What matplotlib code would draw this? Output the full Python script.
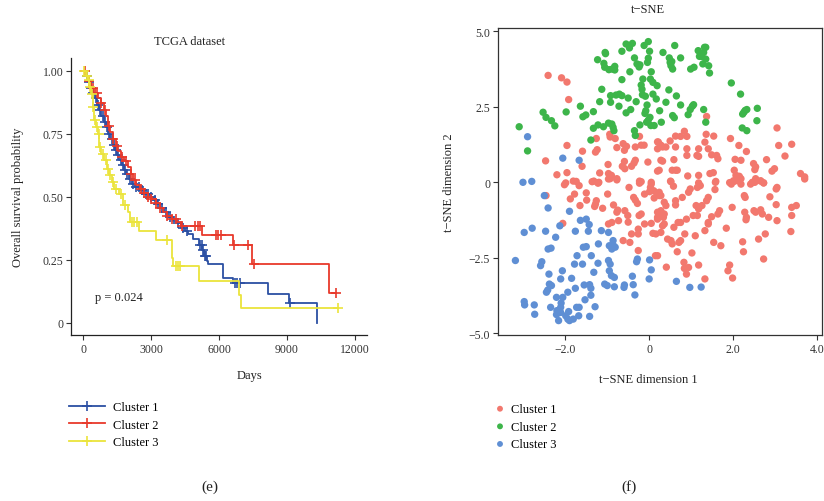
import numpy as np
import matplotlib
matplotlib.use("Agg")
import matplotlib.pyplot as plt
from matplotlib.lines import Line2D

plt.rcParams['font.family'] = ['Liberation Serif', 'DejaVu Serif']

# ---- Kaplan-Meier data (TCGA dataset) ----
c1_t = [0, 100, 200, 300, 400, 500, 600, 700, 800, 900, 1000, 1100, 1200, 1300,
        1400, 1500, 1600, 1700, 1800, 1900, 2000, 2150, 2300, 2500, 2700, 2900,
        3070, 3250, 3400, 3550, 3750, 3950, 4130, 4300, 4500, 4640, 4860, 5100,
        5250, 5350, 5450, 5500, 6190, 6600, 8180, 9080, 10330]
c1_s = [1.0, 0.98, 0.955, 0.93, 0.91, 0.89, 0.865, 0.845, 0.82, 0.795, 0.775,
        0.75, 0.73, 0.705, 0.685, 0.665, 0.645, 0.625, 0.605, 0.59, 0.57, 0.55,
        0.54, 0.525, 0.512, 0.498, 0.486, 0.47, 0.455, 0.438, 0.42, 0.405, 0.395,
        0.375, 0.362, 0.352, 0.332, 0.31, 0.29, 0.265, 0.245, 0.233, 0.177,
        0.156, 0.114, 0.078, 0.0]
c1_cens = [150, 250, 350, 450, 550, 650, 750, 850, 950, 1050, 1150, 1250, 1350,
           1450, 1550, 1650, 1750, 1850, 1950, 2050, 2200, 2350, 2450, 2600,
           2750, 2850, 3000, 3150, 3300, 3500, 3650, 3850, 4200, 4400, 4580,
           5150, 5230, 5300, 5380, 5420, 6700, 6800, 6930, 9150]

c2_t = [0, 100, 200, 350, 500, 650, 780, 900, 1000, 1100, 1200, 1300, 1450,
        1550, 1670, 1800, 1960, 2100, 2200, 2330, 2500, 2700, 2850, 3000, 3200,
        3400, 3540, 3700, 3900, 4130, 4300, 5234, 6633, 7470, 10850]
c2_s = [1.0, 0.98, 0.96, 0.93, 0.91, 0.89, 0.87, 0.845, 0.82, 0.78, 0.755, 0.73,
        0.70, 0.68, 0.658, 0.64, 0.618, 0.59, 0.565, 0.545, 0.53, 0.515, 0.50,
        0.49, 0.475, 0.455, 0.438, 0.425, 0.41, 0.398, 0.385, 0.349, 0.31,
        0.233, 0.117]
c2_cens = [80, 250, 450, 600, 800, 950, 1120, 1300, 1500, 1700, 1900, 2100,
           2300, 2550, 2700, 2850, 3000, 3200, 3400, 3700, 3900, 4100, 4350,
           4950, 5050, 5150, 5850, 5950, 6100, 6650, 7300, 7550, 11170]

c3_t = [0, 100, 194, 270, 340, 415, 487, 560, 637, 707, 800, 928, 1050, 1150,
        1250, 1370, 1590, 1740, 1990, 2065, 2450, 3214, 3900, 3980, 5115, 6883,
        6980]
c3_s = [1.0, 0.98, 0.962, 0.935, 0.909, 0.856, 0.803, 0.775, 0.75, 0.697, 0.67,
        0.644, 0.61, 0.585, 0.56, 0.532, 0.512, 0.466, 0.438, 0.40, 0.363, 0.33,
        0.257, 0.224, 0.167, 0.11, 0.057]
c3_cens = [50, 150, 230, 300, 380, 450, 530, 600, 680, 760, 870, 1000, 1100,
           1200, 1320, 1450, 1650, 1850, 2150, 2250, 2380, 3690, 4080, 4180,
           4280, 11270]

km_labels = ['Cluster 1', 'Cluster 2', 'Cluster 3']
km_colors = ['#2b4fa3', '#e8392b', '#ebe43c']

# ---- t-SNE data ----
red_x = [-2.41, -2.09, -1.96, -1.92, -1.26, -0.94, -0.93, -0.81, -1.96, -1.59,
         -1.28, -1.24, -0.77, -0.62, -0.54, -0.59, -0.33, -0.23, -0.19, -0.12,
         0.20, 0.28, -2.47, -1.96, -2.20, -1.60, -1.18, -0.98, -0.59, -0.64,
         -0.58, -0.42, -0.36, -0.33, -0.03, 0.28, 0.24, -1.81, -1.99, -1.32,
         -1.20, -0.97, -0.90, -0.93, -0.77, -0.23, 0.05,
         1.37, 1.36, 1.54, 0.84, 0.90, 0.75, 0.63, 0.50, 0.22, 0.20, 1.33, 1.41,
         1.94, 2.14, 2.32, 3.05, 3.09, 3.40, 3.24, 0.32, 0.40, 0.63, 0.90, 0.90,
         1.14, 1.18, 1.18, 1.49, 1.61, 1.64, 0.32, 0.59, 0.20, 0.55, 0.63, 0.67,
         0.92, 1.18, 1.45, 1.53, 1.59, 2.05, 2.19, 2.03, 2.07, 2.15, 2.19, 2.49,
         2.54, 2.52, 2.80, 2.93, 2.99, 3.61, 3.71, 1.92, 2.03, 2.46, 2.66, 2.73,
         2.54, 0.51, 1.18,
         -2.02, -1.74, -1.67, -1.36, -1.22, -0.97, -0.77, -0.48, -0.23, -0.19,
         0.05, -1.78, -1.88, -1.50, -1.26, -1.28, -1.30, -0.99, -1.65, -1.49,
         -1.11, -0.85, -0.77, -0.75, -0.58, -0.51, -0.37, -0.33, -0.28, -0.24,
         -0.19, -0.11, 0.01, 0.11, 0.03, 0.19, 0.24, 0.28, 0.24, -0.11, 0.05,
         0.09, 0.16, 0.28, -0.26, -0.46, -0.42, -0.62, -0.26, -0.89, -0.97,
         -0.73, -2.06, -2.46, 0.15, -0.50, -0.26, 0.12, 0.20,
         0.52, 0.58, 1.22, 1.15, 1.58, 1.57, 1.96, 2.01, 2.13, 2.19, 2.42, 2.52,
         2.66, 2.73, 3.05, 3.03, 3.71, 0.24, 0.28, 0.36, 0.40, 0.20, 0.24, 0.32,
         0.36, 0.63, 0.79, 0.94, 0.98, 0.63, 1.12, 1.18, 1.26, 1.37, 1.41, 1.98,
         2.27, 2.29, 2.88, 3.03, 3.40, 3.51, 3.40, 0.20, 0.34, 0.36, 0.59, 0.69,
         0.75, 0.89, 1.05, 1.15, 1.41, 1.49, 1.68, 1.64, 1.84, 2.28, 2.32, 2.31,
         2.50, 2.54, 2.66, 2.70, 2.85, 2.77, 3.05, 3.38, 1.33, 1.41, 1.10, 0.85,
         0.52, 0.44, 0.55, 0.75, 0.71, 0.67, 1.02, 1.54, 1.71, 2.23, 2.25, 2.61,
         2.73, 0.41, 0.83, 0.84, 0.89, 0.94, 1.18, 1.33, 1.92, 1.88, 1.99, 0.20]
red_y = [3.54, 3.46, 3.32, 2.74, 1.45, 1.59, 1.50, 1.45, 1.22, 1.03,
         1.00, 1.08, 1.15, 1.28, 1.19, 1.06, 1.17, 1.52, 1.23, 1.23,
         1.34, 1.23, 0.71, 0.32, 0.25, 0.53, 0.31, 0.59, 0.69, 0.53,
         0.45, 0.53, 0.64, 0.73, 0.67, 0.73, 0.40, 0.04, -0.02, 0.04,
         0.00, 0.29, 0.23, 0.12, 0.12, 0.04, 0.00,
         2.18, 1.59, 1.53, 1.69, 1.52, 1.52, 1.53, 1.37, 1.33, 1.11, 1.33, 1.11,
         1.45, 1.22, 1.02, 1.80, 1.22, 1.26, 0.87, 1.17, 1.17, 1.17, 1.11, 0.89,
         0.89, 0.86, 1.11, 0.91, 0.89, 0.78, 0.70, 0.75, 0.37, 0.40, 0.40, 0.40,
         0.21, 0.23, 0.29, 0.32, 0.03, 0.76, 0.73, 0.40, 0.23, 0.20, 0.12, 0.62,
         0.51, 0.42, 0.75, 0.37, 0.45, 0.29, 0.18, -0.01, 0.03, 0.00, 0.04, -0.02,
         0.12, 0.04, -0.02,
         -0.08, 0.03, -0.11, 0.02, -0.03, 0.11, 0.08, -0.17, -0.03, 0.02,
         -0.06, -0.39, -0.55, -0.35, -0.61, -0.72, -0.80, -0.39, -0.77, -0.59,
         -0.86, -0.75, -0.99, -0.92, -0.94, -1.10, -0.50, -0.59, -0.70, -1.10,
         -1.05, -0.39, -0.31, -0.28, -0.17, -0.39, -0.44, -0.94, -1.05, -1.38,
         -1.36, -1.69, -1.71, -1.66, -1.71, -1.99, -1.71, -1.93, -2.26, -1.33,
         -1.38, -1.27, -1.36, -0.44, -2.43, -1.32, -1.55, -0.52, -1.16,
         0.02, -0.13, -0.11, -0.17, 0.00, -0.24, -0.06, 0.05, 0.05, -0.06, -0.06,
         0.00, 0.05, -0.02, -0.17, -0.22, 0.11, -0.33, -0.44, -0.66, -0.77, -0.99,
         -1.08, -1.44, -1.05, -0.61, -0.50, -0.33, -0.22, -0.75, -0.77, -0.88,
         -0.77, -0.61, -0.50, -0.83, -0.44, -0.50, -0.48, -0.74, -0.83, -0.77,
         -1.10, -1.22, -1.16, -1.38, -1.49, -1.33, -1.33, -1.22, -1.10, -1.10,
         -1.38, -1.14, -0.94, -1.05, -1.52, -0.99, -1.16, -1.24, -0.94, -0.99,
         -0.91, -1.05, -1.16, -1.71, -1.27, -1.63, -1.60, -1.33, -1.77, -1.71,
         -1.93, -1.88, -2.04, -1.93, -1.99, -2.30, -2.34, -1.99, -2.10, -1.97,
         -2.30, -1.88, -2.54, -2.81, -2.65, -2.85, -3.04, -2.82, -2.74, -3.20,
         -2.74, -2.93, -3.17, -2.43]

green_x = [-3.10, -2.90, -2.53, -2.46, -2.33, -2.25, -1.98, -1.64, -1.58, -1.51,
           -1.33, -1.39, -1.33, -1.22, -1.09, -1.13, -1.18, -1.23, -1.05, -1.04,
           -1.08, -1.06, -0.96, -0.88, -0.82, -0.82, -0.92, -0.79, -0.71, -0.65,
           -0.92, -0.97, -0.89, -0.86, -0.84, -0.72, -0.65, -0.65, -0.55, -0.47,
           -0.40, -0.46, -0.50, -0.44, -0.55, -0.35, -0.29, -0.22, -0.24, -0.31,
           -0.35, -0.33, -0.22, -0.16, -0.17, -0.19, -0.15, -0.12, -0.02, 0.01,
           -0.02, -0.04, -0.09, -0.05, -0.08, -0.10, -0.06, 0.02, -0.02, 0.04,
           0.05, 0.03, 0.09, 0.19, 0.09, 0.17, 0.25, 0.12, 0.29, 0.33, 0.40,
           0.47, 0.48, 0.50, 0.52, 0.54, 0.56, 0.61, 0.75, 0.56, 0.60, 0.65,
           0.75, 0.93, 0.98, 1.03, 1.06, 0.99, 1.07, 1.17, 1.20, 1.25, 1.28,
           1.30, 1.32, 1.35, 1.35, 1.42, 1.44, 1.30, 1.35, 1.96, 2.18, 2.23,
           2.26, 2.29, 2.33, 2.22, 2.33, 2.58, 2.57]
green_y = [1.84, 1.04, 2.32, 2.15, 2.04, 1.87, 2.33, 2.52, 2.17, 2.23,
           2.34, 1.40, 1.79, 1.90, 1.84, 3.08, 2.67, 4.06, 4.30, 4.26,
           3.94, 3.81, 3.73, 3.75, 3.84, 3.72, 2.87, 2.89, 2.92, 2.87,
           2.65, 1.96, 1.93, 1.82, 1.71, 2.52, 3.40, 4.34, 4.58, 4.45,
           4.60, 3.66, 2.79, 2.41, 2.30, 4.12, 3.92, 3.89, 3.82, 2.67,
           1.71, 1.55, 1.90, 2.90, 3.08, 3.22, 3.42, 4.53, 4.66, 4.34,
           4.11, 3.97, 2.85, 2.56, 2.37, 2.28, 1.99, 2.15, 2.06, 1.88,
           3.66, 3.42, 3.31, 3.20, 2.92, 2.76, 2.37, 1.88, 1.99, 4.30, 2.65,
           3.06, 4.12, 3.97, 3.86, 4.00, 3.75, 4.53, 4.12, 2.21, 2.14, 2.86,
           2.56, 2.24, 2.41, 2.52, 2.57, 3.75, 3.81, 4.36, 4.17, 4.17, 3.92,
           4.30, 4.47, 4.47, 4.08, 3.86, 3.62, 2.41, 1.99, 3.29, 2.92, 2.26,
           2.32, 2.38, 2.41, 1.80, 1.71, 2.45, 2.04]

blue_x = [-2.90, -2.06, -1.67, -3.01, -2.80, -2.50, -2.41, -1.90, -1.64, -1.50,
          -1.43, -2.13, -2.98, -2.79, -2.47, -1.76, -1.45, -2.23, -1.14, -0.97,
          -0.86, -0.85, -0.89, -0.81, -0.95, -1.21, -1.57, -1.50, -2.41, -2.34,
          -3.19, -2.56, -2.59, -1.72, -1.78, -1.59, -1.38, -1.22, -0.97, -0.93,
          -0.28, -0.30, 0.01, 0.05, 0.00, -0.40, -0.95, -0.90, -0.83, -1.32,
          -2.07, -2.11, -2.39, -2.33, -2.38, -2.45, -2.42, -1.85, -1.76, -1.55,
          -1.42, -1.39, -1.06, -1.00, -0.83, -0.59, -0.60, -0.38, -0.34, -1.39,
          -1.53, -1.94, -2.21, -2.06, -2.10, -2.11, -2.98, -2.97, -2.74, -2.73,
          -2.35, -2.20, -2.21, -2.16, -2.11, -1.99, -1.92, -1.94, -1.90, -1.81,
          -1.73, -1.67, -1.68, -1.42, -1.29, 0.65, 0.97, 1.24]
blue_y = [1.51, 0.80, 0.73, 0.00, 0.03, -0.44, -0.85, -0.96, -1.26, -1.22,
          -1.40, -1.44, -1.66, -1.52, -1.62, -1.62, -1.62, -1.82, -1.60, -1.66,
          -1.93, -2.10, -2.21, -2.15, -2.10, -2.04, -2.15, -2.13, -2.21, -2.18,
          -2.59, -2.63, -2.76, -2.43, -2.71, -2.71, -2.43, -2.68, -2.59, -2.71,
          -2.54, -2.63, -2.57, -2.90, -3.20, -3.11, -2.93, -3.09, -3.15, -2.98,
          -2.93, -3.20, -3.04, -3.42, -3.37, -3.64, -3.57, -3.18, -3.51, -3.40,
          -3.39, -3.51, -3.37, -3.42, -3.46, -3.40, -3.48, -3.39, -3.73, -3.74,
          -3.89, -3.64, -3.81, -3.81, -4.00, -4.14, -3.95, -4.06, -4.06, -4.37,
          -4.14, -4.25, -4.38, -4.58, -4.31, -4.42, -4.28, -4.53, -4.58, -4.53,
          -4.14, -4.14, -4.42, -4.44, -4.12, -3.28, -3.48, -3.47]

W, H = 824, 502
fig = plt.figure(figsize=(W / 100, H / 100), dpi=100)

def fx(px):
    return px / W

def fy(py):
    return 1 - py / H

tick_kw = dict(labelsize=8.5, colors='#333333', length=3.5, width=0.8, pad=2)

# ---------- panel (e): Kaplan-Meier ----------
ax1 = fig.add_axes([fx(71), fy(336.3), fx(366.7) - fx(71), fy(59.1) - fy(336.3)])
for t, s, cens, col in [(c1_t, c1_s, c1_cens, km_colors[0]),
                        (c2_t, c2_s, c2_cens, km_colors[1]),
                        (c3_t, c3_s, c3_cens, km_colors[2])]:
    t = np.array(t, float)
    s = np.array(s, float)
    cens = np.array(cens, float)
    t_end = max(t[-1], cens.max())
    tt = np.append(t, t_end)
    ss = np.append(s, s[-1])
    ax1.step(tt, ss, where='post', color=col, lw=1.3)
    idx = np.searchsorted(t, cens, side='right') - 1
    ax1.plot(cens, s[idx], ls='none', marker='+', ms=7.5, mew=1.2, color=col)

ax1.set_xlim(-544, 12530)
ax1.set_ylim(-0.05, 1.05)
ax1.set_xticks([0, 3000, 6000, 9000, 12000])
ax1.set_xticklabels(['0', '3000', '6000', '9000', '12000'])
ax1.set_yticks([0, 0.25, 0.5, 0.75, 1.0])
ax1.set_yticklabels(['0', '0.25', '0.50', '0.75', '1.00'])
ax1.tick_params(**tick_kw)
for sp in ['top', 'right']:
    ax1.spines[sp].set_visible(False)
for sp in ['left', 'bottom']:
    ax1.spines[sp].set_color('#222222')
    ax1.spines[sp].set_linewidth(0.9)
ax1.text(517, 0.102, 'p = 0.024', fontsize=9, color='#222222', va='center')

fig.text(fx(190), fy(42), 'TCGA dataset', fontsize=9, ha='center', va='center', color='#222222')
fig.text(fx(250), fy(376), 'Days', fontsize=9, ha='center', va='center', color='#222222')
fig.text(fx(18), fy(197), 'Overall survival probability', fontsize=9, rotation=90,
         ha='center', va='center', color='#222222')

km_handles = [Line2D([0], [0], color=c, lw=1.3, marker='+', ms=7.5, mew=1.2) for c in km_colors]
fig.legend(km_handles, km_labels, loc='upper left', bbox_to_anchor=(fx(69), fy(402)),
           frameon=False, fontsize=9, handlelength=2.9, handletextpad=0.6,
           labelspacing=0.45, borderaxespad=0, borderpad=0)

# ---------- panel (f): t-SNE ----------
ax2 = fig.add_axes([fx(497.8), fy(336.1), fx(822.3) - fx(497.8), fy(28.7) - fy(336.1)])
ax2.scatter(red_x, red_y, s=28, color='#f2786e', edgecolors='none', label='Cluster 1')
ax2.scatter(green_x, green_y, s=28, color='#3db54a', edgecolors='none', label='Cluster 2')
ax2.scatter(blue_x, blue_y, s=28, color='#5f8fd4', edgecolors='none', label='Cluster 3')
ax2.set_xlim(-3.61, 4.13)
ax2.set_ylim(-5.06, 5.12)
ax2.set_xticks([-2, 0, 2, 4])
ax2.set_xticklabels(['\u22122.0', '0', '2.0', '4.0'])
ax2.set_yticks([-5, -2.5, 0, 2.5, 5])
ax2.set_yticklabels(['\u22125.0', '\u22122.5', '0', '2.5', '5.0'])
ax2.tick_params(**tick_kw)
for sp in ax2.spines.values():
    sp.set_color('#333333')
    sp.set_linewidth(0.9)

fig.text(fx(648), fy(10), 't\u2212SNE', fontsize=9, ha='center', va='center', color='#222222')
fig.text(fx(648), fy(380), 't\u2212SNE dimension 1', fontsize=9, ha='center', va='center', color='#222222')
fig.text(fx(449), fy(183), 't\u2212SNE dimension 2', fontsize=9, rotation=90,
         ha='center', va='center', color='#222222')

fig.legend(handles=ax2.collections, labels=['Cluster 1', 'Cluster 2', 'Cluster 3'],
           loc='upper left', bbox_to_anchor=(fx(495), fy(404)), frameon=False,
           fontsize=9, handlelength=0.8, handletextpad=0.5, labelspacing=0.45,
           borderaxespad=0, borderpad=0, markerscale=0.8)

fig.text(fx(210), fy(487), '(e)', fontsize=11, ha='center', va='center', color='#222222')
fig.text(fx(629), fy(487), '(f)', fontsize=11, ha='center', va='center', color='#222222')

fig.savefig('out.png', dpi=100)
